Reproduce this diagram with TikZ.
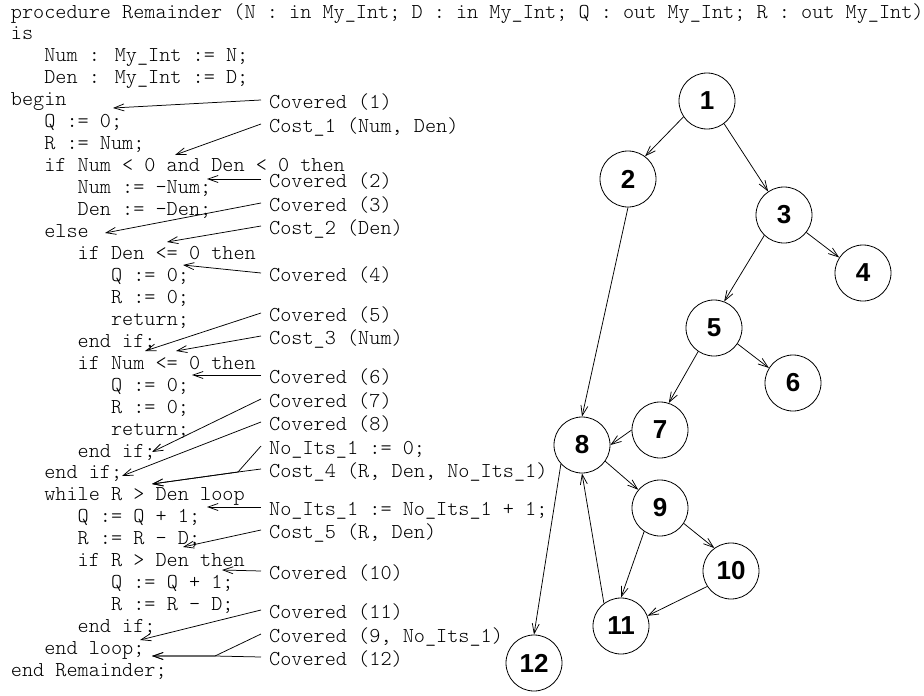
\documentclass[tikz,border=0pt]{standalone}
\usepackage{fontspec}
\newfontfamily\numfont{Liberation Sans}
\usetikzlibrary{arrows.meta}
\begin{document}
\begin{tikzpicture}[x=1pt,y=-1pt,
  code/.style={anchor=base west,inner sep=0pt,font=\fontseries{l}\ttfamily\fontsize{21.2}{22}\selectfont},
  lab/.style={code},
  arr/.style={draw,line width=0.75pt,-{Straight Barb[length=10pt,width=7pt]}},
  lnk/.style={draw,line width=0.75pt},
  state/.style={circle,draw,line width=0.8pt,minimum size=56pt,inner sep=0pt,font=\numfont\bfseries\fontsize{26}{26}\selectfont},
]
\useasboundingbox (0,0) rectangle (924,696);
% ---------- code ----------
\def\la{10.7}\def\lb{44.1}\def\lc{77.5}\def\ld{110.9}
\node[code] (c0)  at (\la,18)     {procedure Remainder (N : in My\_Int; D : in My\_Int; Q : out My\_Int; R : out My\_Int)};
\node[code] (c1)  at (\la,39.95)  {is};
\node[code] (c2)  at (\lb,61.9)   {Num : My\_Int := N;};
\node[code] (c3)  at (\lb,83.85)  {Den : My\_Int := D;};
\node[code] (c4)  at (\la,105.8)  {begin};
\node[code] (c5)  at (\lb,127.75) {Q := 0;};
\node[code] (c6)  at (\lb,149.7)  {R := Num;};
\node[code] (c7)  at (\lb,171.65) {if Num < 0 and Den < 0 then};
\node[code] (c8)  at (\lc,193.6)  {Num := -Num;};
\node[code] (c9)  at (\lc,215.55) {Den := -Den;};
\node[code] (c10) at (\lb,237.5)  {else};
\node[code] (c11) at (\lc,259.45) {if Den <= 0 then};
\node[code] (c12) at (\ld,281.4)  {Q := 0;};
\node[code] (c13) at (\ld,303.35) {R := 0;};
\node[code] (c14) at (\ld,325.3)  {return;};
\node[code] (c15) at (\lc,347.25) {end if;};
\node[code] (c16) at (\lc,369.2)  {if Num <= 0 then};
\node[code] (c17) at (\ld,391.15) {Q := 0;};
\node[code] (c18) at (\ld,413.1)  {R := 0;};
\node[code] (c19) at (\ld,435.05) {return;};
\node[code] (c20) at (\lc,457)    {end if;};
\node[code] (c21) at (\lb,478.95) {end if;};
\node[code] (c22) at (\lb,500.9)  {while R > Den loop};
\node[code] (c23) at (\lc,522.85) {Q := Q + 1;};
\node[code] (c24) at (\lc,544.8)  {R := R - D;};
\node[code] (c25) at (\lc,566.75) {if R > Den then};
\node[code] (c26) at (\ld,588.7)  {Q := Q + 1;};
\node[code] (c27) at (\ld,610.65) {R := R - D;};
\node[code] (c28) at (\lc,632.6)  {end if;};
\node[code] (c29) at (\lb,654.55) {end loop;};
\node[code] (c30) at (\la,676.5)  {end Remainder;};
% ---------- labels ----------
\def\lx{269}
\node[lab] (l1)  at (\lx,108) {Covered (1)};
\node[lab] (l2)  at (\lx,132) {Cost\_1 (Num, Den)};
\node[lab] (l3)  at (\lx,187) {Covered (2)};
\node[lab] (l4)  at (\lx,211) {Covered (3)};
\node[lab] (l5)  at (\lx,234) {Cost\_2 (Den)};
\node[lab] (l6)  at (\lx,281) {Covered (4)};
\node[lab] (l7)  at (\lx,321) {Covered (5)};
\node[lab] (l8)  at (\lx,344) {Cost\_3 (Num)};
\node[lab] (l9)  at (\lx,383) {Covered (6)};
\node[lab] (l10) at (\lx,407) {Covered (7)};
\node[lab] (l11) at (\lx,430) {Covered (8)};
\node[lab] (l12) at (\lx,454) {No\_Its\_1 := 0;};
\node[lab] (l13) at (\lx,477) {Cost\_4 (R, Den, No\_Its\_1)};
\node[lab] (l14) at (\lx,515) {No\_Its\_1 := No\_Its\_1 + 1;};
\node[lab] (l15) at (\lx,538) {Cost\_5 (R, Den)};
\node[lab] (l16) at (\lx,579) {Covered (10)};
\node[lab] (l17) at (\lx,618) {Covered (11)};
\node[lab] (l18) at (\lx,642) {Covered (9, No\_Its\_1)};
\node[lab] (l19) at (\lx,665) {Covered (12)};
% tips
\coordinate (t1) at (113,108);
\coordinate (t2) at (175,155);
\coordinate (t3) at (207,179);
\coordinate (t4) at (105,233);
\coordinate (t5) at (167,242);
\coordinate (t6) at (183,265);
\coordinate (t7) at (145,351);
\coordinate (t8) at (176,351);
\coordinate (t9) at (192,375);
\coordinate (t10) at (152,452);
\coordinate (t11) at (122,476);
\coordinate (j12) at (238,472);
\coordinate (t12) at (152,484);
\coordinate (t14) at (207,507);
\coordinate (t15) at (183,547);
\coordinate (t16) at (222,570);
\coordinate (t17) at (140,640);
\coordinate (j18) at (215,656);
\coordinate (t18) at (152,656);
\foreach \l/\t in {l1/t1,l2/t2,l3/t3,l4/t4,l5/t5,l6/t6,l7/t7,l8/t8,l9/t9,l10/t10,l11/t11,l14/t14,l15/t15,l16/t16,l17/t17}
  \draw[arr] ([shift={(-8,-8)}]\l.base west) -- (\t);
\draw[arr] ([shift={(-8,-8)}]l12.base west) -- (j12) -- (t12);
\draw[arr] ([shift={(-8,-8)}]l13.base west) -- (j12) -- (t12);
\draw[arr] ([shift={(-8,-8)}]l18.base west) -- (j18) -- (t18);
\draw[arr] ([shift={(-8,-8)}]l19.base west) -- (j18) -- (t18);
% ---------- graph ----------
\node[state] (n1)  at (707,101) {1};
\node[state] (n2)  at (628,179) {2};
\node[state] (n3)  at (784,215) {3};
\node[state] (n4)  at (863,273) {4};
\node[state] (n5)  at (714,328) {5};
\node[state] (n6)  at (793,383) {6};
\node[state] (n7)  at (660,430) {7};
\node[state] (n8)  at (582,445) {8};
\node[state] (n9)  at (660,508) {9};
\node[state] (n10) at (731,571) {10};
\node[state] (n11) at (621,626) {11};
\node[state] (n12) at (534,663) {12};
\draw[arr] (n1.214) -- (n2.53);
\draw[arr] (n1.-53) -- (n3.124);
\draw[arr] (n3.-38) -- (n4.147);
\draw[arr] (n3.226) -- (n5.69);
\draw[arr] (n5.-34) -- (n6.148);
\draw[arr] (n5.236) -- (n7.72);
\draw[arr] (n2.270) -- (n8.90);
\draw[arr] (n7.180) -- (n8.0);
\draw[arr] (n8.-35) -- (n9.140);
\draw[arr] (n9.-33) -- (n10.126);
\draw[arr] (n9.236) -- (n11.90);
\draw[arr] (n10.213) -- (n11.21);
\draw[arr] (n11.127) -- (n8.270);
\draw[arr] (n8.222) -- (n12.90);
\end{tikzpicture}
\end{document}
